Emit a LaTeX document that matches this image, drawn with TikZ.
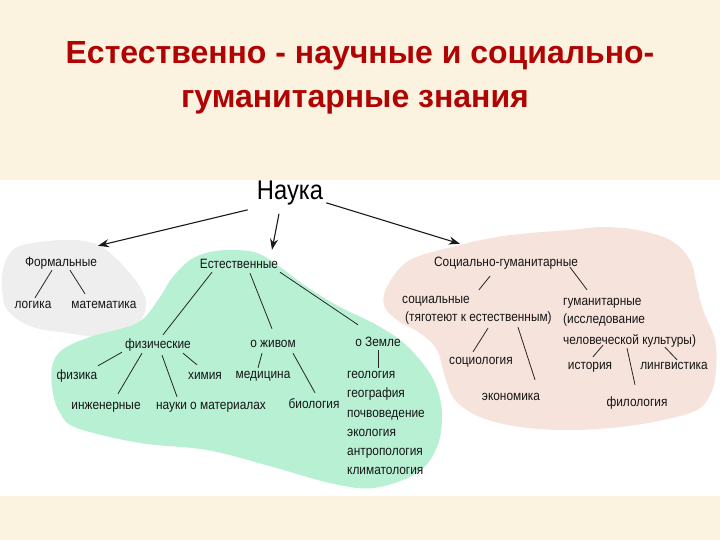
\documentclass[tikz,border=0pt]{standalone}
\usepackage{fontspec}
\setmainfont{Liberation Sans}
\newfontfamily\lab[FakeStretch=0.88]{Liberation Sans}
\newfontfamily\ttlfont{Liberation Sans}
\usetikzlibrary{arrows.meta,calc}
\definecolor{cream}{RGB}{251,243,223}
\definecolor{titlered}{RGB}{176,4,4}
\definecolor{blobgray}{RGB}{238,238,238}
\definecolor{blobgreen}{RGB}{184,240,212}
\definecolor{blobpink}{RGB}{246,227,220}
\tikzset{
  lbl/.style={font=\lab\fontsize{13.5}{15}\selectfont, inner sep=1pt, text height=9pt, text depth=3pt, text=black!92},
  conn/.style={draw=black!85, line width=0.8pt},
  arr/.style={draw=black!90, line width=1.1pt, -{Stealth[length=11pt,width=8pt]}},
  ttl/.style={font=\ttlfont\bfseries\fontsize{32}{40}\selectfont, text=titlered, inner sep=0pt, anchor=base}
}
\begin{document}
\begin{tikzpicture}[x=1pt,y=-1pt]
\useasboundingbox (0,0) rectangle (720,540);
\fill[cream] (0,0) rectangle (720,540);
\fill[white] (0,180) rectangle (720,496);
% title
\node[ttl] (title1) at (360,64) {Естественно - научные и социально-};
\node[ttl] (title2) at (355,108) {гуманитарные знания};
% blobs
\fill[blobgray] plot[smooth cycle, tension=0.7] coordinates {(33,243) (67,240) (93,243) (110,253) (127,270) (140,287) (146,303) (141,320) (127,333) (100,337) (67,333) (33,327) (10,313) (3,297) (3,270) (13,250)};
\fill[blobgreen] plot[smooth cycle, tension=0.6] coordinates {(233,250) (257,253) (280,267) (307,287) (340,307) (373,323) (400,340) (420,360) (435,383) (442,413) (437,447) (417,473) (373,488) (330,483) (273,467) (207,450) (140,443) (77,428) (60,413) (53,393) (52,367) (62,350) (90,337) (137,323) (158,300) (172,278) (190,260) (210,252)};
\fill[blobpink] plot[smooth cycle, tension=0.6] coordinates {(460,245) (497,237) (530,233) (570,230) (603,227) (637,230) (670,240) (690,260) (697,287) (703,310) (715,340) (716,370) (711,393) (697,410) (663,420) (620,427) (570,430) (520,427) (480,417) (455,400) (445,377) (437,350) (420,333) (397,320) (384,305) (388,285) (410,260)};
% top
\node[font=\lab\fontsize{27}{30}\selectfont, inner sep=1pt, anchor=base, text=black] (nauka) at (290,200) {Наука};
% formal
\node[lbl] (form) at (61,263) {Формальные};
\node[lbl] (logic) at (33,305) {логика};
\node[lbl] (math) at (104,305) {математика};
% natural
\node[lbl] (nat) at (239,265) {Естественные};
\node[lbl] (phys) at (158,345) {физические};
\node[lbl] (fiz) at (77,376) {физика};
\node[lbl] (chem) at (205,376) {химия};
\node[lbl] (eng) at (106,406) {инженерные};
\node[lbl] (mat) at (211,406) {науки о материалах};
\node[lbl] (liv) at (273,344) {о живом};
\node[lbl] (med) at (263,375) {медицина};
\node[lbl] (bio) at (314,405) {биология};
\node[lbl] (earth) at (378,343) {о Земле};
\node[lbl, anchor=west] (geo) at (346,375) {геология};
\node[lbl, anchor=west] (geog) at (346,394) {география};
\node[lbl, anchor=west] (soil) at (346,414) {почвоведение};
\node[lbl, anchor=west] (eco) at (346,433) {экология};
\node[lbl, anchor=west] (anth) at (346,452) {антропология};
\node[lbl, anchor=west] (clim) at (346,471) {климатология};
% social-humanitarian
\node[lbl] (soc) at (506,263) {Социально-гуманитарные};
\node[lbl, anchor=west] (s1) at (401,300) {социальные};
\node[lbl, anchor=west] (s2) at (404,318) {(тяготеют к естественным)};
\node[lbl, anchor=west] (h1) at (562,302) {гуманитарные};
\node[lbl, anchor=west] (h2) at (562,320) {(исследование};
\node[lbl, anchor=west] (h3) at (562,341) {человеческой культуры)};
\node[lbl] (socio) at (481,361) {социология};
\node[lbl] (econ) at (511,397) {экономика};
\node[lbl] (hist) at (590,366) {история};
\node[lbl] (ling) at (674,366) {лингвистика};
\node[lbl] (phil) at (637,403) {филология};
% arrows
\draw[arr] ($(nauka.south west)+(-8,3)$) -- ($(form.north)+(37,-10)$);
\draw[arr] ($(nauka.south)+(-11,7)$) -- ($(nat.north)+(33,-8)$);
\draw[arr] ($(nauka.south east)+(2,-4)$) -- ($(soc.north west)+(27,-12)$);
% formal lines
\draw[conn] ($(form.south)+(-9,0)$) -- ($(logic.north)+(2,0)$);
\draw[conn] ($(form.south)+(9,0)$) -- ($(math.north)+(-19,-4)$);
% natural lines
\draw[conn] ($(nat.south)+(-27,0)$) -- ($(phys.north)+(5,-3)$);
\draw[conn] ($(nat.south)+(11,1)$) -- ($(liv.north)+(-1,-8)$);
\draw[conn] ($(nat.south)+(41,0)$) -- ($(earth.north)+(-20,-11)$);
\draw[conn] ($(phys.south)+(-36,0)$) -- ($(fiz.north)+(21,-3)$);
\draw[conn] ($(phys.south)+(-16,1)$) -- ($(eng.north)+(12,-5)$);
\draw[conn] ($(phys.south)+(4,3)$) -- ($(mat.north)+(-34,-2)$);
\draw[conn] ($(phys.south)+(25,1)$) -- ($(chem.north)+(-8,-4)$);
\draw[conn] ($(liv.south)+(-11,2)$) -- ($(med.north)+(-5,0)$);
\draw[conn] ($(liv.south)+(20,2)$) -- ($(bio.north)+(1,-5)$);
\draw[conn] (earth.south) -- (earth.south |- geo.north);
% social lines
\draw[conn] ($(soc.south)+(-16,6)$) -- ($(s1.north east)+(8,-3)$);
\draw[conn] ($(soc.south)+(64,-3)$) -- ($(h1.north west)+(25,-5)$);
\draw[conn] ($(s2.south west)+(84,3)$) -- ($(socio.north)+(-8,-2)$);
\draw[conn] ($(s2.south west)+(114,2)$) -- ($(econ.north)+(24,-10)$);
\draw[conn] ($(h3.south west)+(41,-3)$) -- ($(hist.north)+(3,-2)$);
\draw[conn] ($(h3.south west)+(103,-1)$) -- ($(ling.north)+(3,1)$);
\draw[conn] ($(h3.south west)+(65,0)$) -- ($(phil.north)+(-2,-11)$);
\end{tikzpicture}
\end{document}
